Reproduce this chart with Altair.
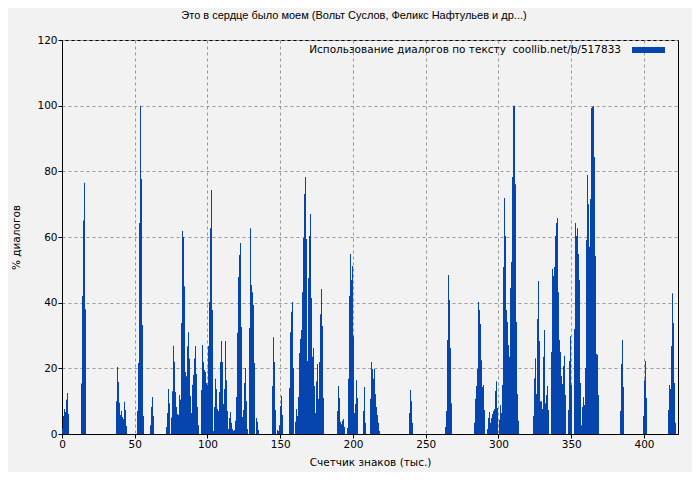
import altair as alt
import pandas as pd

STEP = 0.6873  # thousand characters per chunk (one bar)
N_CHUNKS = 616

# Each run: index of its first chunk, then the "% dialogue" value of each chunk
run_starts = [0, 19, 54, 75, 88, 104, 139, 210, 227, 275, 285, 301, 308,
              347, 383, 412, 425, 471, 489, 506, 558, 581, 606]

run_values = [
    [1.7, 5.5, 7.6, 6.7, 10.4, 12.5, 6.1],
    [15.4, 42, 65, 76.5, 38],
    [10, 20.4, 15.8, 9.5, 5.8, 7, 5.2, 4.6, 9.8, 7.3, 2.4],
    [7, 21.6, 64.3, 100, 77.7, 33.2, 5.5],
    [2.7, 8.2, 11.3, 5.5],
    [2.1, 6.4, 13.7, 9.4, 0, 5, 13, 26.9, 22, 12.8, 8.2, 6.1, 5.8, 11.9, 10.4,
     33.8, 61.8, 60, 45, 18.9, 17.6, 26.7, 31, 23, 11.6, 6.4, 15, 18, 23, 26.8,
     18.3, 8.2, 2.7],
    [13.4, 27.1, 21.9, 19.5, 18.9, 15.5, 14.9, 26.8, 40.2, 62.7, 74.3, 37.8, 0.9,
     8.2, 16.8, 13.7, 7.6, 7, 12.8, 21.9, 28.3, 21.9, 9.1, 13.7, 28.3, 16.4, 7,
     1.5, 4.9, 6.7, 3.4, 1.5, 0.9, 1.2, 4, 11.3, 30.8, 47.8, 54.5, 58.2, 32.6,
     5.2, 7.3, 15.5, 20.1, 10, 1.5, 0, 32.3, 62.7, 45.4, 43.2, 39.3, 21.6, 0,
     4.9, 3.7, 1.2],
    [14.6, 29.5, 21.9, 7.3, 0, 1.2, 0.9, 2.7, 8.5, 11.6, 5.8],
    [14, 31, 37.2, 40.2, 20.1, 0, 3.7, 7.6, 5.5, 11.3, 24.7, 28.9, 31.7, 43.2,
     59.7, 73.1, 78.3, 59.4, 22.2, 47.5, 60.3, 67, 41.4, 23.5, 26.2, 14.6, 6.4,
     16.1, 21.3, 10.7, 21.9, 36.5, 44.2, 32.9, 11],
    [7, 14.6, 11, 3.7, 3, 4, 4.6, 2.1],
    [1.8, 16.8, 42, 54.8, 46.9, 51.2, 29.8, 6.4, 9.1, 16.4, 11],
    [7, 14.3, 3.4],
    [10.7, 21.9, 19.8, 16.8, 19.8, 12.2, 8.2, 5.8, 3.4, 0.9],
    [6.4, 13.4, 10, 3.4],
    [2.1, 7, 28.6, 48.4, 40.8, 26.2, 9.4],
    [3.4, 10.7, 14.6, 19.8, 40.2, 37.8, 33.5, 22.5, 14.3, 14.9, 7.3],
    [1.5, 4.9, 6.7, 3.4, 4.9, 6.1, 7, 7.6, 13.1, 16.1, 7.9, 0, 4.3, 8.8, 6.4,
     14.9, 50.9, 71.9, 60.3, 37.8, 34.1, 27.1, 23.5, 44.5, 52.4, 78.3, 100, 100,
     76.1, 34.1, 12.2, 4],
    [5.5, 17, 23.1, 12.2, 35, 46.6, 28.3, 10, 10, 7.6, 23.5, 31.7, 9.4, 11.9,
     14.6, 7.3],
    [25, 50.3, 48.1, 50.9, 60.3, 64.3, 65.8, 43.2, 28.6, 25, 17.7, 15.2, 20.7,
     23.8, 11.9],
    [7.3, 22.2, 29.8, 14.9, 0, 0, 32, 64.3, 60.3, 62.7, 54.8, 46.9, 15.5, 2.7,
     8.2, 11.3, 8.8, 20.1, 59.1, 78.9, 70, 57, 71.6, 99.3, 99.6, 99.9, 84.4,
     54.2, 24.4, 24.1, 11.9],
    [7, 21.3, 28.6, 14.3],
    [5.5, 16.4, 22.2, 11],
    [7.3, 14.9, 13.7, 26.8, 42.9, 33.8, 15.5, 3.4],
]

x_ticks = [0, 50, 100, 150, 200, 250, 300, 350, 400]
y_ticks = [0, 20, 40, 60, 80, 100, 120]

title_text = "Это в сердце было моем (Вольт Суслов, Феликс Нафтульев и др...)"
legend_label = "Использование диалогов по тексту\u00a0\u00a0coollib.net/b/517833"
x_title = "Счетчик знаков (тыс.)"
y_title = "% диалогов"

BLUE = "#0645ad"
FONT = "DejaVu Sans"
TITLE_FONT = "Liberation Sans"
FS = 10.5

rows = []
for start, vals in zip(run_starts, run_values):
    for j, v in enumerate(vals):
        k = start + j
        rows.append({"x": k * STEP, "x2": (k + 1) * STEP, "pct": v})
df = pd.DataFrame(rows)

x_scale = alt.Scale(domain=[0, N_CHUNKS * STEP], nice=False, zero=False)
y_scale = alt.Scale(domain=[0, 120], nice=False)

bars = alt.Chart(df).mark_rect(color=BLUE, strokeWidth=0).encode(
    x=alt.X("x:Q", scale=x_scale,
            axis=alt.Axis(values=x_ticks, title=x_title, format="d",
                          titlePadding=8, labelFlush=False)),
    x2="x2:Q",
    y=alt.Y("pct:Q", scale=y_scale,
            axis=alt.Axis(values=y_ticks, title=y_title, titlePadding=15,
                          labelFlush=False)),
    y2=alt.datum(0),
)

one = pd.DataFrame({"label": [legend_label]})
legend_text = alt.Chart(one).mark_text(
    align="right", baseline="middle", fontSize=FS, font=FONT, color="black"
).encode(x=alt.value(559), y=alt.value(10), text="label:N")

swatch = alt.Chart(one).mark_rect(color=BLUE).encode(
    x=alt.value(570), x2=alt.value(603), y=alt.value(7), y2=alt.value(13)
)

chart = alt.layer(bars, legend_text, swatch).properties(
    width=616,
    height=394,
    autosize="none",
    padding={"left": 54, "top": 32, "right": 14, "bottom": 38},
    background="#f2f2f2",
    title=alt.TitleParams(title_text, fontSize=11, font=TITLE_FONT,
                          fontWeight="normal", dx=-16, offset=14,
                          anchor="middle", color="black"),
).configure_view(
    stroke="black", strokeWidth=1, fill="#f2f2f2"
).configure_axis(
    domainColor="black", tickColor="black", tickSize=4,
    gridColor="#999999", gridDash=[3, 3], gridWidth=1,
    labelFont=FONT, labelFontSize=FS, labelColor="black",
    titleFont=FONT, titleFontSize=FS, titleFontWeight="normal",
    titleColor="black", labelPadding=1,
)

chart.save("out.html", embed_options={"renderer": "svg", "actions": False})
